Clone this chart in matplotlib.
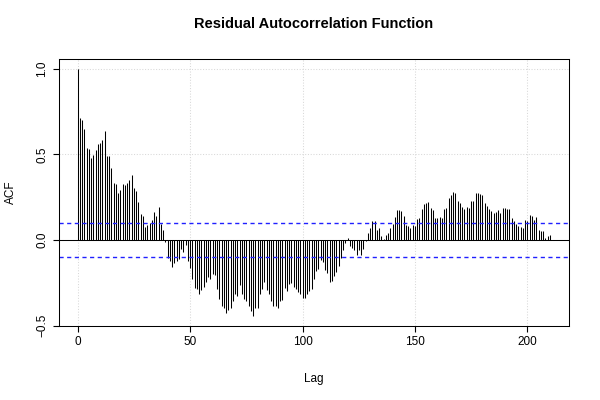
import numpy as np
import matplotlib
matplotlib.use("Agg")
import matplotlib.pyplot as plt

plt.rcParams['font.family'] = ['Liberation Sans', 'DejaVu Sans']

# residual ACF values, lags 0..210
acf_vals = [
    1.000, 0.714, 0.699, 0.646, 0.539, 0.529, 0.479, 0.494, 0.525, 0.562,
    0.568, 0.584, 0.638, 0.490, 0.490, 0.418, 0.334, 0.328, 0.276, 0.295,
    0.325, 0.319, 0.334, 0.350, 0.379, 0.305, 0.286, 0.223, 0.153, 0.139,
    0.075, 0.087, 0.100, 0.114, 0.165, 0.143, 0.192, 0.095, 0.061, -0.013,
    -0.104, -0.124, -0.159, -0.134, -0.124, -0.110, -0.052, -0.071, -0.032, -0.124,
    -0.163, -0.231, -0.280, -0.289, -0.318, -0.293, -0.274, -0.247, -0.215, -0.231,
    -0.196, -0.202, -0.286, -0.344, -0.387, -0.400, -0.426, -0.407, -0.397, -0.358,
    -0.318, -0.328, -0.266, -0.313, -0.344, -0.358, -0.387, -0.416, -0.445, -0.397,
    -0.397, -0.315, -0.286, -0.247, -0.293, -0.313, -0.358, -0.387, -0.387, -0.397,
    -0.358, -0.348, -0.280, -0.299, -0.260, -0.254, -0.274, -0.289, -0.305, -0.318,
    -0.338, -0.338, -0.318, -0.299, -0.289, -0.231, -0.182, -0.169, -0.118, -0.130,
    -0.176, -0.192, -0.247, -0.237, -0.208, -0.188, -0.153, -0.104, -0.060, -0.018,
    0.012, -0.037, -0.047, -0.060, -0.090, -0.056, -0.090, -0.053, -0.008, 0.042,
    0.071, 0.110, 0.110, 0.061, 0.071, 0.026, 0.007, 0.030, 0.038, 0.071,
    0.095, 0.133, 0.174, 0.174, 0.169, 0.139, 0.085, 0.081, 0.071, 0.089,
    0.081, 0.120, 0.130, 0.182, 0.208, 0.217, 0.223, 0.188, 0.178, 0.130,
    0.126, 0.135, 0.130, 0.182, 0.188, 0.247, 0.260, 0.282, 0.272, 0.227,
    0.217, 0.194, 0.182, 0.192, 0.188, 0.227, 0.227, 0.276, 0.276, 0.266,
    0.260, 0.217, 0.198, 0.182, 0.169, 0.155, 0.163, 0.173, 0.159, 0.188,
    0.188, 0.182, 0.182, 0.130, 0.110, 0.096, 0.081, 0.077, 0.071, 0.114,
    0.110, 0.145, 0.139, 0.116, 0.135, 0.057, 0.050, 0.050, 0.013, 0.026,
    0.030,
]
lags = np.arange(len(acf_vals))
conf = 0.097

fig = plt.figure(figsize=(6, 4), dpi=100)
ax = fig.add_axes([0.098, 0.185, 0.85, 0.6675])

ax.vlines(lags, 0, acf_vals, color='black', linewidth=0.75)
ax.axhline(0, color='black', linewidth=0.75)
ax.axhline(conf, color='#2020ff', linestyle=(0, (3, 2.5)), linewidth=1.0)
ax.axhline(-conf, color='#2020ff', linestyle=(0, (3, 2.5)), linewidth=1.0)

ax.set_xticks([0, 50, 100, 150, 200])
ax.set_yticks([-0.5, 0.0, 0.5, 1.0])
ax.grid(True, color='#d8d8d8', linestyle=':', linewidth=0.75)
ax.set_axisbelow(True)

span_x = lags[-1] * 0.04
ax.set_xlim(-span_x, lags[-1] + span_x)
lo, hi = min(acf_vals), max(acf_vals)
span_y = (hi - lo) * 0.04
ax.set_ylim(lo - span_y, hi + span_y)

ax.tick_params(labelsize=8.5, length=4, direction='out')
for lab in ax.get_yticklabels():
    lab.set_rotation(90)
    lab.set_va('center')
for s in ax.spines.values():
    s.set_linewidth(0.75)

ax.set_title('Residual Autocorrelation Function', fontsize=10.5,
             fontweight='bold', pad=22)
ax.set_xlabel('Lag', fontsize=8.5, labelpad=18)
ax.set_ylabel('ACF', fontsize=8.5, labelpad=14)

fig.savefig('out.png')
